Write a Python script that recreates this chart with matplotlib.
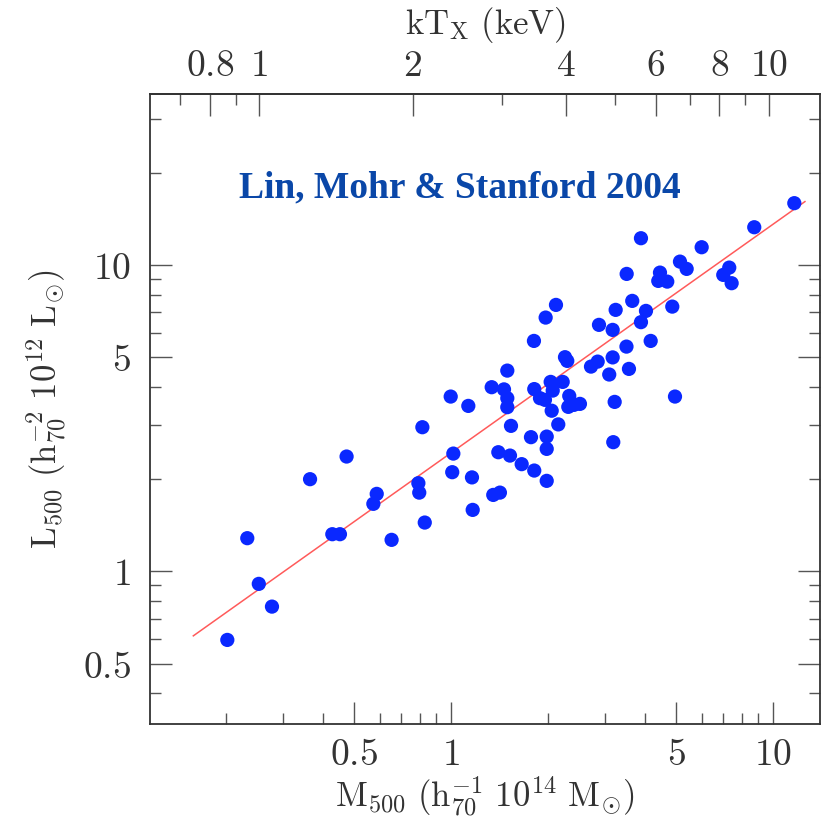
import numpy as np
import matplotlib
matplotlib.use("Agg")
import matplotlib.pyplot as plt
from matplotlib.ticker import FixedLocator, FixedFormatter, NullFormatter

plt.rcParams['mathtext.fontset'] = 'cm'
plt.rcParams['font.family'] = ['DejaVu Serif']

# ---- data ----
M500 = [0.815, 0.474, 1.017, 0.365, 1.009, 1.162, 0.792, 0.797, 0.588, 0.574,
        1.168, 0.829, 0.233, 0.428, 0.452, 0.654, 0.253, 0.278, 0.202, 1.353,
        1.419, 1.403, 1.525, 1.658, 1.814, 1.983, 1.772, 1.983, 1.983, 3.192,
        1.536, 2.154, 0.998, 1.132, 1.496, 1.338, 1.461, 1.496, 1.496, 1.814,
        1.890, 1.958, 2.040, 2.223, 2.070, 2.055, 2.330, 2.314, 2.515, 2.410,
        3.224, 4.963, 1.810, 2.260, 2.297, 3.178, 2.722, 2.855, 3.571, 3.101,
        3.508, 4.171, 2.119, 1.968, 3.247, 3.656, 4.033, 4.868, 3.891, 2.882,
        3.178, 3.513, 4.458, 4.404, 4.696, 5.143, 5.395, 7.316, 7.009, 7.442,
        6.006, 3.891, 8.748, 11.65]
L500 = [2.955, 2.371, 2.424, 2.000, 2.108, 2.027, 1.941, 1.808, 1.791, 1.662,
        1.588, 1.444, 1.284, 1.323, 1.323, 1.268, 0.911, 0.768, 0.598, 1.777,
        1.808, 2.449, 2.388, 2.239, 2.134, 1.975, 2.742, 2.754, 2.511, 2.641,
        2.985, 3.018, 3.720, 3.468, 4.521, 3.991, 3.926, 3.675, 3.435, 3.935,
        3.675, 3.629, 4.153, 4.153, 3.891, 3.345, 3.738, 3.443, 3.521, 3.495,
        3.574, 3.720, 5.650, 5.000, 4.863, 4.992, 4.659, 4.837, 4.579, 4.390,
        5.414, 5.650, 7.405, 6.733, 7.134, 7.632, 7.079, 7.311, 6.505, 6.374,
        6.138, 9.346, 9.438, 8.868, 8.821, 10.25, 9.705, 9.800, 9.277, 8.717,
        11.42, 12.22, 13.27, 15.90]
fit_M = [0.1584, 12.57]
fit_L = [0.6166, 16.09]

x_major = [0.5, 1, 5, 10]
x_major_labels = ['0.5', '1', '5', '10']
x_minor = [0.2, 0.3, 0.4, 0.6, 0.7, 0.8, 0.9, 2, 3, 4, 6, 7, 8, 9]
y_major = [0.5, 1, 5, 10]
y_major_labels = ['0.5', '1', '5', '10']
y_minor = [0.4, 0.6, 0.7, 0.8, 0.9, 2, 3, 4, 6, 7, 8, 9, 20, 30]
t_major = [0.8, 1, 2, 4, 6, 8, 10]
t_major_labels = ['0.8', '1', '2', '4', '6', '8', '10']
t_minor = [0.7, 0.9, 3, 5, 7, 9]

# M-T conversion used for the top axis
T_NORM, T_SLOPE = 2.378, 0.632


def m2t(m):
    return T_NORM * np.power(np.abs(m), T_SLOPE)


def t2m(t):
    return np.power(np.abs(t) / T_NORM, 1.0 / T_SLOPE)


W, H = 827, 822
fig = plt.figure(figsize=(W / 100, H / 100), dpi=100)
ax = fig.add_axes([150 / W, (H - 724) / H, 670 / W, 630 / H])
ax.set_xscale('log')
ax.set_yscale('log')
ax.set_xlim(0.1162, 14.0)
ax.set_ylim(0.318, 36.1)

ax.plot(fit_M, fit_L, color='#ff5a5a', lw=1.1, zorder=2)
ax.scatter(M500, L500, s=105, color='#0a28ff', edgecolors='none', zorder=3)

txtc = '#333333'
tickc = '#555555'
fs_tick = 27
fs_lab = 25

ax.xaxis.set_major_locator(FixedLocator(x_major))
ax.xaxis.set_major_formatter(FixedFormatter(['$' + s + '$' for s in x_major_labels]))
ax.xaxis.set_minor_locator(FixedLocator(x_minor))
ax.xaxis.set_minor_formatter(NullFormatter())
ax.yaxis.set_major_locator(FixedLocator(y_major))
ax.yaxis.set_major_formatter(FixedFormatter(['$' + s + '$' for s in y_major_labels]))
ax.yaxis.set_minor_locator(FixedLocator(y_minor))
ax.yaxis.set_minor_formatter(NullFormatter())

ax.tick_params(which='both', direction='in', top=False, right=True,
               color=tickc, labelcolor=txtc, labelsize=fs_tick)
ax.tick_params(which='major', length=15.5, width=1.0)
ax.tick_params(which='minor', length=8, width=1.0)
ax.tick_params(axis='x', which='major', pad=9)
ax.tick_params(axis='y', which='major', pad=14)
for sp in ax.spines.values():
    sp.set_color('#333333')
    sp.set_linewidth(1.3)

sec = ax.secondary_xaxis('top', functions=(m2t, t2m))
sec.xaxis.set_major_locator(FixedLocator(t_major))
sec.xaxis.set_major_formatter(FixedFormatter(['$' + s + '$' for s in t_major_labels]))
sec.xaxis.set_minor_locator(FixedLocator(t_minor))
sec.xaxis.set_minor_formatter(NullFormatter())
sec.tick_params(which='both', direction='in', color=tickc, labelcolor=txtc,
                labelsize=fs_tick)
sec.tick_params(which='major', length=15.5, width=1.0, pad=7)
sec.tick_params(which='minor', length=8, width=1.0)
sec.spines['top'].set_color('#333333')
sec.spines['top'].set_linewidth(1.3)

ax.set_xlabel(r'$\mathrm{M}_{500}\ (\mathrm{h}_{70}^{-1}\ 10^{14}\ \mathrm{M}_{\odot})$',
              fontsize=fs_lab, color=txtc, labelpad=2)
ax.set_ylabel(r'$\mathrm{L}_{500}\ (\mathrm{h}_{70}^{-2}\ 10^{12}\ \mathrm{L}_{\odot})$',
              fontsize=fs_lab, color=txtc, labelpad=10)
sec.set_xlabel(r'$\mathrm{kT}_{\mathrm{X}}\ (\mathrm{keV})$', fontsize=fs_lab,
               color=txtc, labelpad=10)

ax.text(0.463, 0.8365, 'Lin, Mohr & Stanford 2004', transform=ax.transAxes,
        ha='center', va='baseline', fontsize=27, fontweight='bold',
        family='Liberation Serif', color='#0a47a8')

fig.savefig('out.png', dpi=100)
